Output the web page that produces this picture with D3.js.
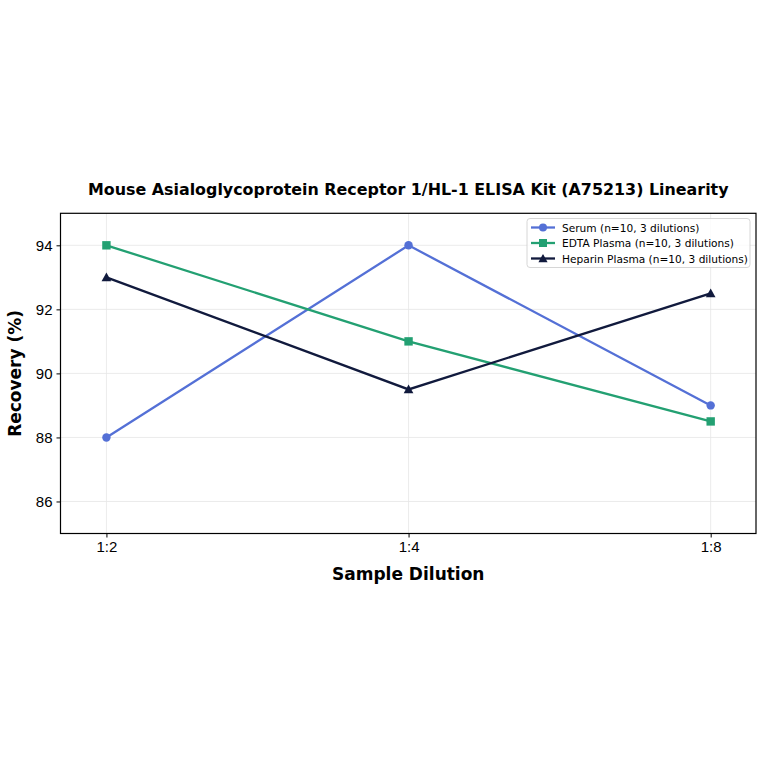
<!DOCTYPE html>
<html><head><meta charset="utf-8">
<script src="https://cdn.jsdelivr.net/npm/d3@7"></script>
<style>body{margin:0;background:#fff}svg{display:block;font-family:"DejaVu Sans",sans-serif}</style>
</head><body>
<script>
const categories = ["1:2", "1:4", "1:8"];
const serum = [88, 94, 89];
const edta = [94, 91, 88.5];
const heparin = [93, 89.5, 92.5];
const seriesNames = ["Serum (n=10, 3 dilutions)", "EDTA Plasma (n=10, 3 dilutions)", "Heparin Plasma (n=10, 3 dilutions)"];
const yTicks = [86, 88, 90, 92, 94];
const title = "Mouse Asialoglycoprotein Receptor 1/HL-1 ELISA Kit (A75213) Linearity";

const series = [
  {name: seriesNames[0], values: serum, color: "#5470d6", marker: "circle"},
  {name: seriesNames[1], values: edta, color: "#23a072", marker: "square"},
  {name: seriesNames[2], values: heparin, color: "#111a3d", marker: "triangle"}
];

const W = 764, H = 764;
const m = {left: 60.5, right: 756, top: 213.3, bottom: 533.5};
const svg = d3.select("body").append("svg").attr("width", W).attr("height", H);

const x = d3.scaleLinear().domain([-0.152, 2.15]).range([m.left, m.right]);
const y = d3.scaleLinear().domain([85, 95]).range([m.bottom, m.top]);

// grid
const g = svg.append("g");
g.selectAll(".gy").data(yTicks).enter().append("line")
  .attr("x1", m.left).attr("x2", m.right)
  .attr("y1", d => y(d)).attr("y2", d => y(d))
  .attr("stroke", "#e6e6e6").attr("stroke-width", 0.8);
g.selectAll(".gx").data(categories).enter().append("line")
  .attr("x1", (d, i) => x(i)).attr("x2", (d, i) => x(i))
  .attr("y1", m.top).attr("y2", m.bottom)
  .attr("stroke", "#e6e6e6").attr("stroke-width", 0.8);

// axes
const yAxis = d3.axisLeft(y).tickValues(yTicks).tickSize(4).tickPadding(4).tickFormat(d3.format("d"));
const ya = svg.append("g").attr("transform", `translate(${m.left},0)`).call(yAxis);
ya.select(".domain").remove();
ya.selectAll("text").attr("font-size", 15).attr("fill", "#000");
ya.selectAll("line").attr("stroke", "#000");

const xAxis = d3.axisBottom(x).tickValues([0, 1, 2]).tickFormat(i => categories[i]).tickSize(4).tickPadding(4);
const xa = svg.append("g").attr("transform", `translate(0,${m.bottom})`).call(xAxis);
xa.select(".domain").remove();
xa.selectAll("text").attr("font-size", 15).attr("fill", "#000");
xa.selectAll("line").attr("stroke", "#000");

// frame
svg.append("rect").attr("x", m.left).attr("y", m.top).attr("width", m.right - m.left).attr("height", m.bottom - m.top)
  .attr("fill", "none").attr("stroke", "#000").attr("stroke-width", 1.2);

function drawMarker(sel, type, color, size) {
  if (type === "circle") {
    sel.append("circle").attr("r", size).attr("fill", color);
  } else if (type === "square") {
    sel.append("rect").attr("x", -size).attr("y", -size).attr("width", 2 * size).attr("height", 2 * size).attr("fill", color);
  } else {
    const s = size * 1.15;
    sel.append("path").attr("d", `M0,${-s}L${s},${s * 0.8}L${-s},${s * 0.8}Z`).attr("fill", color);
  }
}

const line = d3.line().x((d, i) => x(i)).y(d => y(d));
series.forEach(s => {
  svg.append("path").datum(s.values).attr("d", line).attr("fill", "none")
    .attr("stroke", s.color).attr("stroke-width", 2.3);
  s.values.forEach((v, i) => {
    const mg = svg.append("g").attr("transform", `translate(${x(i)},${y(v)})`);
    drawMarker(mg, s.marker, s.color, 4.2);
  });
});

// title
svg.append("text").attr("x", (m.left + m.right) / 2).attr("y", 195).attr("text-anchor", "middle")
  .attr("font-size", 15.9).attr("font-weight", "bold").text(title);

// axis labels
svg.append("text").attr("x", (m.left + m.right) / 2).attr("y", 580).attr("text-anchor", "middle")
  .attr("font-size", 17).attr("font-weight", "bold").text("Sample Dilution");
svg.append("text").attr("transform", `translate(21,${(m.top + m.bottom) / 2}) rotate(-90)`).attr("text-anchor", "middle")
  .attr("font-size", 17).attr("font-weight", "bold").text("Recovery (%)");

// legend
const lg = svg.append("g");
lg.append("rect").attr("x", 527).attr("y", 218.5).attr("width", 223).attr("height", 49).attr("rx", 3)
  .attr("fill", "#fff").attr("fill-opacity", 0.8).attr("stroke", "#ccc").attr("stroke-width", 0.8);
series.forEach((s, i) => {
  const yy = 227.5 + i * 15.5;
  lg.append("line").attr("x1", 531).attr("x2", 555).attr("y1", yy).attr("y2", yy).attr("stroke", s.color).attr("stroke-width", 2.3);
  const mg = lg.append("g").attr("transform", `translate(543,${yy})`);
  drawMarker(mg, s.marker, s.color, 4);
  lg.append("text").attr("x", 562).attr("y", yy + 4).attr("font-size", 10.6).attr("fill", "#000").text(s.name);
});
</script>
</body></html>
